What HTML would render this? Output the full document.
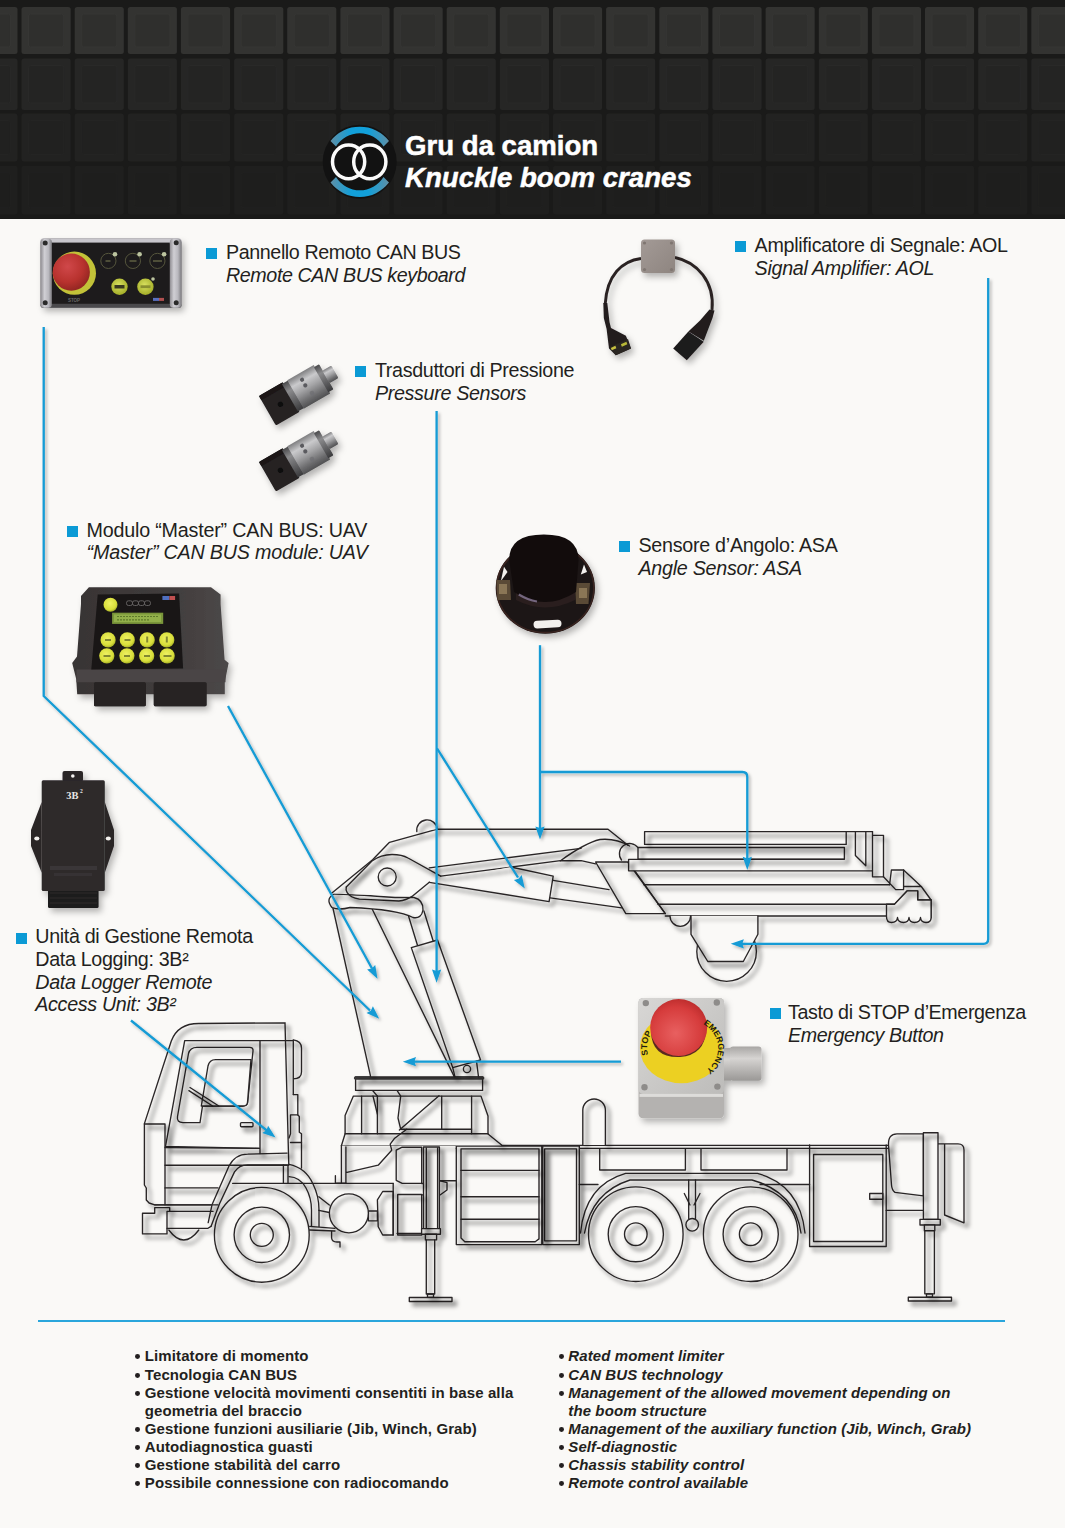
<!DOCTYPE html>
<html><head><meta charset="utf-8">
<style>
html,body{margin:0;padding:0;}
body{width:1065px;height:1528px;overflow:hidden;background:#faf9f7;position:relative;font-family:"Liberation Sans",sans-serif;color:#231f20;}
#hdr{position:absolute;left:0;top:0;width:1065px;height:218.5px;background:#191918;overflow:hidden;}
.t{position:absolute;white-space:nowrap;font-size:19.7px;line-height:19.7px;}
.i{font-style:italic;}
.sq{position:absolute;width:11px;height:11px;background:#0b9ad5;}
.title{position:absolute;white-space:nowrap;color:#fff;font-weight:bold;font-size:27.6px;line-height:27.6px;-webkit-text-stroke:0.5px #fff;}
.bl{position:absolute;white-space:nowrap;font-weight:bold;font-size:15px;line-height:15px;}
svg{position:absolute;left:0;top:0;}
</style></head><body>
<div id="hdr">
<svg width="1065" height="219" viewBox="0 0 1065 219">
<!--HDR-->
<rect x="0" y="0" width="1065" height="218.5" fill="#1a1a19"/>
<rect x="-31.6" y="7.0" width="49.1" height="47.0" rx="2.5" fill="#333331"/>
<rect x="-24.6" y="14.0" width="35.1" height="33.0" rx="2" fill="#2f2f2d" stroke="#363634" stroke-width="1"/>
<rect x="21.5" y="7.0" width="49.2" height="47.0" rx="2.5" fill="#333331"/>
<rect x="28.5" y="14.0" width="35.2" height="33.0" rx="2" fill="#2f2f2d" stroke="#363634" stroke-width="1"/>
<rect x="74.7" y="7.0" width="49.1" height="47.0" rx="2.5" fill="#333331"/>
<rect x="81.7" y="14.0" width="35.1" height="33.0" rx="2" fill="#2f2f2d" stroke="#363634" stroke-width="1"/>
<rect x="127.8" y="7.0" width="49.1" height="47.0" rx="2.5" fill="#333331"/>
<rect x="134.8" y="14.0" width="35.1" height="33.0" rx="2" fill="#2f2f2d" stroke="#363634" stroke-width="1"/>
<rect x="180.9" y="7.0" width="49.2" height="47.0" rx="2.5" fill="#333331"/>
<rect x="187.9" y="14.0" width="35.2" height="33.0" rx="2" fill="#2f2f2d" stroke="#363634" stroke-width="1"/>
<rect x="234.1" y="7.0" width="49.2" height="47.0" rx="2.5" fill="#333331"/>
<rect x="241.1" y="14.0" width="35.2" height="33.0" rx="2" fill="#2f2f2d" stroke="#363634" stroke-width="1"/>
<rect x="287.2" y="7.0" width="49.1" height="47.0" rx="2.5" fill="#333331"/>
<rect x="294.2" y="14.0" width="35.1" height="33.0" rx="2" fill="#2f2f2d" stroke="#363634" stroke-width="1"/>
<rect x="340.4" y="7.0" width="49.2" height="47.0" rx="2.5" fill="#333331"/>
<rect x="347.4" y="14.0" width="35.2" height="33.0" rx="2" fill="#2f2f2d" stroke="#363634" stroke-width="1"/>
<rect x="393.6" y="7.0" width="49.1" height="47.0" rx="2.5" fill="#333331"/>
<rect x="400.6" y="14.0" width="35.1" height="33.0" rx="2" fill="#2f2f2d" stroke="#363634" stroke-width="1"/>
<rect x="446.7" y="7.0" width="49.1" height="47.0" rx="2.5" fill="#333331"/>
<rect x="453.7" y="14.0" width="35.1" height="33.0" rx="2" fill="#2f2f2d" stroke="#363634" stroke-width="1"/>
<rect x="499.8" y="7.0" width="49.2" height="47.0" rx="2.5" fill="#333331"/>
<rect x="506.8" y="14.0" width="35.2" height="33.0" rx="2" fill="#2f2f2d" stroke="#363634" stroke-width="1"/>
<rect x="553.0" y="7.0" width="49.1" height="47.0" rx="2.5" fill="#333331"/>
<rect x="560.0" y="14.0" width="35.1" height="33.0" rx="2" fill="#2f2f2d" stroke="#363634" stroke-width="1"/>
<rect x="606.1" y="7.0" width="49.1" height="47.0" rx="2.5" fill="#333331"/>
<rect x="613.1" y="14.0" width="35.1" height="33.0" rx="2" fill="#2f2f2d" stroke="#363634" stroke-width="1"/>
<rect x="659.3" y="7.0" width="49.1" height="47.0" rx="2.5" fill="#333331"/>
<rect x="666.3" y="14.0" width="35.1" height="33.0" rx="2" fill="#2f2f2d" stroke="#363634" stroke-width="1"/>
<rect x="712.4" y="7.0" width="49.2" height="47.0" rx="2.5" fill="#333331"/>
<rect x="719.4" y="14.0" width="35.2" height="33.0" rx="2" fill="#2f2f2d" stroke="#363634" stroke-width="1"/>
<rect x="765.6" y="7.0" width="49.1" height="47.0" rx="2.5" fill="#333331"/>
<rect x="772.6" y="14.0" width="35.1" height="33.0" rx="2" fill="#2f2f2d" stroke="#363634" stroke-width="1"/>
<rect x="818.8" y="7.0" width="49.1" height="47.0" rx="2.5" fill="#333331"/>
<rect x="825.8" y="14.0" width="35.1" height="33.0" rx="2" fill="#2f2f2d" stroke="#363634" stroke-width="1"/>
<rect x="871.9" y="7.0" width="49.1" height="47.0" rx="2.5" fill="#333331"/>
<rect x="878.9" y="14.0" width="35.1" height="33.0" rx="2" fill="#2f2f2d" stroke="#363634" stroke-width="1"/>
<rect x="925.0" y="7.0" width="49.1" height="47.0" rx="2.5" fill="#333331"/>
<rect x="932.0" y="14.0" width="35.1" height="33.0" rx="2" fill="#2f2f2d" stroke="#363634" stroke-width="1"/>
<rect x="978.2" y="7.0" width="49.1" height="47.0" rx="2.5" fill="#333331"/>
<rect x="985.2" y="14.0" width="35.1" height="33.0" rx="2" fill="#2f2f2d" stroke="#363634" stroke-width="1"/>
<rect x="1031.3" y="7.0" width="49.2" height="47.0" rx="2.5" fill="#333331"/>
<rect x="1038.3" y="14.0" width="35.2" height="33.0" rx="2" fill="#2f2f2d" stroke="#363634" stroke-width="1"/>
<rect x="1084.5" y="7.0" width="49.1" height="47.0" rx="2.5" fill="#333331"/>
<rect x="1091.5" y="14.0" width="35.1" height="33.0" rx="2" fill="#2f2f2d" stroke="#363634" stroke-width="1"/>
<rect x="-31.6" y="58.5" width="49.1" height="51.5" rx="2.5" fill="#262625"/>
<rect x="-24.6" y="65.5" width="35.1" height="37.5" rx="2" fill="#242423" stroke="#292928" stroke-width="1"/>
<rect x="21.5" y="58.5" width="49.2" height="51.5" rx="2.5" fill="#262625"/>
<rect x="28.5" y="65.5" width="35.2" height="37.5" rx="2" fill="#242423" stroke="#292928" stroke-width="1"/>
<rect x="74.7" y="58.5" width="49.1" height="51.5" rx="2.5" fill="#262625"/>
<rect x="81.7" y="65.5" width="35.1" height="37.5" rx="2" fill="#242423" stroke="#292928" stroke-width="1"/>
<rect x="127.8" y="58.5" width="49.1" height="51.5" rx="2.5" fill="#262625"/>
<rect x="134.8" y="65.5" width="35.1" height="37.5" rx="2" fill="#242423" stroke="#292928" stroke-width="1"/>
<rect x="180.9" y="58.5" width="49.2" height="51.5" rx="2.5" fill="#262625"/>
<rect x="187.9" y="65.5" width="35.2" height="37.5" rx="2" fill="#242423" stroke="#292928" stroke-width="1"/>
<rect x="234.1" y="58.5" width="49.2" height="51.5" rx="2.5" fill="#262625"/>
<rect x="241.1" y="65.5" width="35.2" height="37.5" rx="2" fill="#242423" stroke="#292928" stroke-width="1"/>
<rect x="287.2" y="58.5" width="49.1" height="51.5" rx="2.5" fill="#262625"/>
<rect x="294.2" y="65.5" width="35.1" height="37.5" rx="2" fill="#242423" stroke="#292928" stroke-width="1"/>
<rect x="340.4" y="58.5" width="49.2" height="51.5" rx="2.5" fill="#262625"/>
<rect x="347.4" y="65.5" width="35.2" height="37.5" rx="2" fill="#242423" stroke="#292928" stroke-width="1"/>
<rect x="393.6" y="58.5" width="49.1" height="51.5" rx="2.5" fill="#262625"/>
<rect x="400.6" y="65.5" width="35.1" height="37.5" rx="2" fill="#242423" stroke="#292928" stroke-width="1"/>
<rect x="446.7" y="58.5" width="49.1" height="51.5" rx="2.5" fill="#262625"/>
<rect x="453.7" y="65.5" width="35.1" height="37.5" rx="2" fill="#242423" stroke="#292928" stroke-width="1"/>
<rect x="499.8" y="58.5" width="49.2" height="51.5" rx="2.5" fill="#262625"/>
<rect x="506.8" y="65.5" width="35.2" height="37.5" rx="2" fill="#242423" stroke="#292928" stroke-width="1"/>
<rect x="553.0" y="58.5" width="49.1" height="51.5" rx="2.5" fill="#262625"/>
<rect x="560.0" y="65.5" width="35.1" height="37.5" rx="2" fill="#242423" stroke="#292928" stroke-width="1"/>
<rect x="606.1" y="58.5" width="49.1" height="51.5" rx="2.5" fill="#262625"/>
<rect x="613.1" y="65.5" width="35.1" height="37.5" rx="2" fill="#242423" stroke="#292928" stroke-width="1"/>
<rect x="659.3" y="58.5" width="49.1" height="51.5" rx="2.5" fill="#262625"/>
<rect x="666.3" y="65.5" width="35.1" height="37.5" rx="2" fill="#242423" stroke="#292928" stroke-width="1"/>
<rect x="712.4" y="58.5" width="49.2" height="51.5" rx="2.5" fill="#262625"/>
<rect x="719.4" y="65.5" width="35.2" height="37.5" rx="2" fill="#242423" stroke="#292928" stroke-width="1"/>
<rect x="765.6" y="58.5" width="49.1" height="51.5" rx="2.5" fill="#262625"/>
<rect x="772.6" y="65.5" width="35.1" height="37.5" rx="2" fill="#242423" stroke="#292928" stroke-width="1"/>
<rect x="818.8" y="58.5" width="49.1" height="51.5" rx="2.5" fill="#262625"/>
<rect x="825.8" y="65.5" width="35.1" height="37.5" rx="2" fill="#242423" stroke="#292928" stroke-width="1"/>
<rect x="871.9" y="58.5" width="49.1" height="51.5" rx="2.5" fill="#262625"/>
<rect x="878.9" y="65.5" width="35.1" height="37.5" rx="2" fill="#242423" stroke="#292928" stroke-width="1"/>
<rect x="925.0" y="58.5" width="49.1" height="51.5" rx="2.5" fill="#262625"/>
<rect x="932.0" y="65.5" width="35.1" height="37.5" rx="2" fill="#242423" stroke="#292928" stroke-width="1"/>
<rect x="978.2" y="58.5" width="49.1" height="51.5" rx="2.5" fill="#262625"/>
<rect x="985.2" y="65.5" width="35.1" height="37.5" rx="2" fill="#242423" stroke="#292928" stroke-width="1"/>
<rect x="1031.3" y="58.5" width="49.2" height="51.5" rx="2.5" fill="#262625"/>
<rect x="1038.3" y="65.5" width="35.2" height="37.5" rx="2" fill="#242423" stroke="#292928" stroke-width="1"/>
<rect x="1084.5" y="58.5" width="49.1" height="51.5" rx="2.5" fill="#262625"/>
<rect x="1091.5" y="65.5" width="35.1" height="37.5" rx="2" fill="#242423" stroke="#292928" stroke-width="1"/>
<rect x="-31.6" y="113.5" width="49.1" height="48.0" rx="2.5" fill="#222221"/>
<rect x="-24.6" y="120.5" width="35.1" height="34.0" rx="2" fill="#212120" stroke="#242423" stroke-width="1"/>
<rect x="21.5" y="113.5" width="49.2" height="48.0" rx="2.5" fill="#222221"/>
<rect x="28.5" y="120.5" width="35.2" height="34.0" rx="2" fill="#212120" stroke="#242423" stroke-width="1"/>
<rect x="74.7" y="113.5" width="49.1" height="48.0" rx="2.5" fill="#222221"/>
<rect x="81.7" y="120.5" width="35.1" height="34.0" rx="2" fill="#212120" stroke="#242423" stroke-width="1"/>
<rect x="127.8" y="113.5" width="49.1" height="48.0" rx="2.5" fill="#222221"/>
<rect x="134.8" y="120.5" width="35.1" height="34.0" rx="2" fill="#212120" stroke="#242423" stroke-width="1"/>
<rect x="180.9" y="113.5" width="49.2" height="48.0" rx="2.5" fill="#222221"/>
<rect x="187.9" y="120.5" width="35.2" height="34.0" rx="2" fill="#212120" stroke="#242423" stroke-width="1"/>
<rect x="234.1" y="113.5" width="49.2" height="48.0" rx="2.5" fill="#222221"/>
<rect x="241.1" y="120.5" width="35.2" height="34.0" rx="2" fill="#212120" stroke="#242423" stroke-width="1"/>
<rect x="287.2" y="113.5" width="49.1" height="48.0" rx="2.5" fill="#222221"/>
<rect x="294.2" y="120.5" width="35.1" height="34.0" rx="2" fill="#212120" stroke="#242423" stroke-width="1"/>
<rect x="340.4" y="113.5" width="49.2" height="48.0" rx="2.5" fill="#222221"/>
<rect x="347.4" y="120.5" width="35.2" height="34.0" rx="2" fill="#212120" stroke="#242423" stroke-width="1"/>
<rect x="393.6" y="113.5" width="49.1" height="48.0" rx="2.5" fill="#222221"/>
<rect x="400.6" y="120.5" width="35.1" height="34.0" rx="2" fill="#212120" stroke="#242423" stroke-width="1"/>
<rect x="446.7" y="113.5" width="49.1" height="48.0" rx="2.5" fill="#222221"/>
<rect x="453.7" y="120.5" width="35.1" height="34.0" rx="2" fill="#212120" stroke="#242423" stroke-width="1"/>
<rect x="499.8" y="113.5" width="49.2" height="48.0" rx="2.5" fill="#222221"/>
<rect x="506.8" y="120.5" width="35.2" height="34.0" rx="2" fill="#212120" stroke="#242423" stroke-width="1"/>
<rect x="553.0" y="113.5" width="49.1" height="48.0" rx="2.5" fill="#222221"/>
<rect x="560.0" y="120.5" width="35.1" height="34.0" rx="2" fill="#212120" stroke="#242423" stroke-width="1"/>
<rect x="606.1" y="113.5" width="49.1" height="48.0" rx="2.5" fill="#222221"/>
<rect x="613.1" y="120.5" width="35.1" height="34.0" rx="2" fill="#212120" stroke="#242423" stroke-width="1"/>
<rect x="659.3" y="113.5" width="49.1" height="48.0" rx="2.5" fill="#222221"/>
<rect x="666.3" y="120.5" width="35.1" height="34.0" rx="2" fill="#212120" stroke="#242423" stroke-width="1"/>
<rect x="712.4" y="113.5" width="49.2" height="48.0" rx="2.5" fill="#222221"/>
<rect x="719.4" y="120.5" width="35.2" height="34.0" rx="2" fill="#212120" stroke="#242423" stroke-width="1"/>
<rect x="765.6" y="113.5" width="49.1" height="48.0" rx="2.5" fill="#222221"/>
<rect x="772.6" y="120.5" width="35.1" height="34.0" rx="2" fill="#212120" stroke="#242423" stroke-width="1"/>
<rect x="818.8" y="113.5" width="49.1" height="48.0" rx="2.5" fill="#222221"/>
<rect x="825.8" y="120.5" width="35.1" height="34.0" rx="2" fill="#212120" stroke="#242423" stroke-width="1"/>
<rect x="871.9" y="113.5" width="49.1" height="48.0" rx="2.5" fill="#222221"/>
<rect x="878.9" y="120.5" width="35.1" height="34.0" rx="2" fill="#212120" stroke="#242423" stroke-width="1"/>
<rect x="925.0" y="113.5" width="49.1" height="48.0" rx="2.5" fill="#222221"/>
<rect x="932.0" y="120.5" width="35.1" height="34.0" rx="2" fill="#212120" stroke="#242423" stroke-width="1"/>
<rect x="978.2" y="113.5" width="49.1" height="48.0" rx="2.5" fill="#222221"/>
<rect x="985.2" y="120.5" width="35.1" height="34.0" rx="2" fill="#212120" stroke="#242423" stroke-width="1"/>
<rect x="1031.3" y="113.5" width="49.2" height="48.0" rx="2.5" fill="#222221"/>
<rect x="1038.3" y="120.5" width="35.2" height="34.0" rx="2" fill="#212120" stroke="#242423" stroke-width="1"/>
<rect x="1084.5" y="113.5" width="49.1" height="48.0" rx="2.5" fill="#222221"/>
<rect x="1091.5" y="120.5" width="35.1" height="34.0" rx="2" fill="#212120" stroke="#242423" stroke-width="1"/>
<rect x="-31.6" y="165.7" width="49.1" height="48.9" rx="2.5" fill="#1f1f1e"/>
<rect x="-24.6" y="172.7" width="35.1" height="34.9" rx="2" fill="#1e1e1d" stroke="#212120" stroke-width="1"/>
<rect x="21.5" y="165.7" width="49.2" height="48.9" rx="2.5" fill="#1f1f1e"/>
<rect x="28.5" y="172.7" width="35.2" height="34.9" rx="2" fill="#1e1e1d" stroke="#212120" stroke-width="1"/>
<rect x="74.7" y="165.7" width="49.1" height="48.9" rx="2.5" fill="#1f1f1e"/>
<rect x="81.7" y="172.7" width="35.1" height="34.9" rx="2" fill="#1e1e1d" stroke="#212120" stroke-width="1"/>
<rect x="127.8" y="165.7" width="49.1" height="48.9" rx="2.5" fill="#1f1f1e"/>
<rect x="134.8" y="172.7" width="35.1" height="34.9" rx="2" fill="#1e1e1d" stroke="#212120" stroke-width="1"/>
<rect x="180.9" y="165.7" width="49.2" height="48.9" rx="2.5" fill="#1f1f1e"/>
<rect x="187.9" y="172.7" width="35.2" height="34.9" rx="2" fill="#1e1e1d" stroke="#212120" stroke-width="1"/>
<rect x="234.1" y="165.7" width="49.2" height="48.9" rx="2.5" fill="#1f1f1e"/>
<rect x="241.1" y="172.7" width="35.2" height="34.9" rx="2" fill="#1e1e1d" stroke="#212120" stroke-width="1"/>
<rect x="287.2" y="165.7" width="49.1" height="48.9" rx="2.5" fill="#1f1f1e"/>
<rect x="294.2" y="172.7" width="35.1" height="34.9" rx="2" fill="#1e1e1d" stroke="#212120" stroke-width="1"/>
<rect x="340.4" y="165.7" width="49.2" height="48.9" rx="2.5" fill="#1f1f1e"/>
<rect x="347.4" y="172.7" width="35.2" height="34.9" rx="2" fill="#1e1e1d" stroke="#212120" stroke-width="1"/>
<rect x="393.6" y="165.7" width="49.1" height="48.9" rx="2.5" fill="#1f1f1e"/>
<rect x="400.6" y="172.7" width="35.1" height="34.9" rx="2" fill="#1e1e1d" stroke="#212120" stroke-width="1"/>
<rect x="446.7" y="165.7" width="49.1" height="48.9" rx="2.5" fill="#1f1f1e"/>
<rect x="453.7" y="172.7" width="35.1" height="34.9" rx="2" fill="#1e1e1d" stroke="#212120" stroke-width="1"/>
<rect x="499.8" y="165.7" width="49.2" height="48.9" rx="2.5" fill="#1f1f1e"/>
<rect x="506.8" y="172.7" width="35.2" height="34.9" rx="2" fill="#1e1e1d" stroke="#212120" stroke-width="1"/>
<rect x="553.0" y="165.7" width="49.1" height="48.9" rx="2.5" fill="#1f1f1e"/>
<rect x="560.0" y="172.7" width="35.1" height="34.9" rx="2" fill="#1e1e1d" stroke="#212120" stroke-width="1"/>
<rect x="606.1" y="165.7" width="49.1" height="48.9" rx="2.5" fill="#1f1f1e"/>
<rect x="613.1" y="172.7" width="35.1" height="34.9" rx="2" fill="#1e1e1d" stroke="#212120" stroke-width="1"/>
<rect x="659.3" y="165.7" width="49.1" height="48.9" rx="2.5" fill="#1f1f1e"/>
<rect x="666.3" y="172.7" width="35.1" height="34.9" rx="2" fill="#1e1e1d" stroke="#212120" stroke-width="1"/>
<rect x="712.4" y="165.7" width="49.2" height="48.9" rx="2.5" fill="#1f1f1e"/>
<rect x="719.4" y="172.7" width="35.2" height="34.9" rx="2" fill="#1e1e1d" stroke="#212120" stroke-width="1"/>
<rect x="765.6" y="165.7" width="49.1" height="48.9" rx="2.5" fill="#1f1f1e"/>
<rect x="772.6" y="172.7" width="35.1" height="34.9" rx="2" fill="#1e1e1d" stroke="#212120" stroke-width="1"/>
<rect x="818.8" y="165.7" width="49.1" height="48.9" rx="2.5" fill="#1f1f1e"/>
<rect x="825.8" y="172.7" width="35.1" height="34.9" rx="2" fill="#1e1e1d" stroke="#212120" stroke-width="1"/>
<rect x="871.9" y="165.7" width="49.1" height="48.9" rx="2.5" fill="#1f1f1e"/>
<rect x="878.9" y="172.7" width="35.1" height="34.9" rx="2" fill="#1e1e1d" stroke="#212120" stroke-width="1"/>
<rect x="925.0" y="165.7" width="49.1" height="48.9" rx="2.5" fill="#1f1f1e"/>
<rect x="932.0" y="172.7" width="35.1" height="34.9" rx="2" fill="#1e1e1d" stroke="#212120" stroke-width="1"/>
<rect x="978.2" y="165.7" width="49.1" height="48.9" rx="2.5" fill="#1f1f1e"/>
<rect x="985.2" y="172.7" width="35.1" height="34.9" rx="2" fill="#1e1e1d" stroke="#212120" stroke-width="1"/>
<rect x="1031.3" y="165.7" width="49.2" height="48.9" rx="2.5" fill="#1f1f1e"/>
<rect x="1038.3" y="172.7" width="35.2" height="34.9" rx="2" fill="#1e1e1d" stroke="#212120" stroke-width="1"/>
<rect x="1084.5" y="165.7" width="49.1" height="48.9" rx="2.5" fill="#1f1f1e"/>
<rect x="1091.5" y="172.7" width="35.1" height="34.9" rx="2" fill="#1e1e1d" stroke="#212120" stroke-width="1"/>
<!--/HDR-->
</svg>
</div>
<!--LOGO-->
<svg width="1065" height="218" viewBox="0 0 1065 218" style="top:0">
<defs>
<linearGradient id="lgB" x1="0" y1="0" x2="1" y2="0">
<stop offset="0" stop-color="#5f8fa6"/><stop offset="0.35" stop-color="#12a0da"/><stop offset="0.65" stop-color="#12a0da"/><stop offset="1" stop-color="#5f8fa6"/>
</linearGradient>
</defs>
<circle cx="359.7" cy="161.8" r="37" fill="#121212"/>
<path d="M330.5 141 A37 37 0 0 1 389 141 L383.5 146.5 A28 28 0 0 0 336 146.5 Z" fill="url(#lgB)"/>
<path d="M330.5 182.6 A37 37 0 0 0 389 182.6 L383.5 177.1 A28 28 0 0 1 336 177.1 Z" fill="url(#lgB)"/>
<ellipse cx="348.6" cy="161.8" rx="16.1" ry="16.9" fill="none" stroke="#fbfbfb" stroke-width="3.5"/>
<ellipse cx="369.8" cy="161.8" rx="16.1" ry="16.9" fill="none" stroke="#fbfbfb" stroke-width="3.5"/>
</svg>
<div class="title" style="left:405px;top:132px;">Gru da camion</div>
<div class="title" style="left:405px;top:164px;font-style:italic;">Knuckle boom cranes</div>
<!--/LOGO-->
<!--LABELS-->
<div class="sq" style="left:206.0px;top:248.3px;"></div>
<div class="t" id="L0_0" style="left:226.0px;top:243.22px;letter-spacing:-0.41px;">Pannello Remoto CAN BUS</div>
<div class="t i" id="L0_1" style="left:226.0px;top:265.52px;letter-spacing:-0.41px;">Remote CAN BUS keyboard</div>
<div class="sq" style="left:735.2px;top:241.1px;"></div>
<div class="t" id="L1_0" style="left:754.6px;top:236.12px;letter-spacing:-0.29px;">Amplificatore di Segnale: AOL</div>
<div class="t i" id="L1_1" style="left:754.6px;top:258.62px;letter-spacing:-0.29px;">Signal Amplifier: AOL</div>
<div class="sq" style="left:355.2px;top:366.1px;"></div>
<div class="t" id="L2_0" style="left:374.9px;top:361.32px;letter-spacing:-0.33px;">Trasduttori di Pressione</div>
<div class="t i" id="L2_1" style="left:374.9px;top:383.62px;letter-spacing:-0.33px;">Pressure Sensors</div>
<div class="sq" style="left:66.8px;top:525.5px;"></div>
<div class="t" id="L3_0" style="left:86.6px;top:520.52px;letter-spacing:-0.2px;">Modulo “Master” CAN BUS: UAV</div>
<div class="t i" id="L3_1" style="left:86.6px;top:542.72px;letter-spacing:-0.2px;">“Master” CAN BUS module: UAV</div>
<div class="sq" style="left:619.1px;top:541.2px;"></div>
<div class="t" id="L4_0" style="left:638.4px;top:536.32px;letter-spacing:-0.26px;">Sensore d’Angolo: ASA</div>
<div class="t i" id="L4_1" style="left:638.4px;top:558.82px;letter-spacing:-0.26px;">Angle Sensor: ASA</div>
<div class="sq" style="left:15.9px;top:932.6px;"></div>
<div class="t" id="L5_0" style="left:35.3px;top:927.42px;letter-spacing:-0.33px;">Unità di Gestione Remota</div>
<div class="t" id="L5_1" style="left:35.3px;top:949.92px;letter-spacing:-0.33px;">Data Logging: 3B²</div>
<div class="t i" id="L5_2" style="left:35.3px;top:972.52px;letter-spacing:-0.33px;">Data Logger Remote</div>
<div class="t i" id="L5_3" style="left:35.3px;top:995.12px;letter-spacing:-0.33px;">Access Unit: 3B²</div>
<div class="sq" style="left:770.2px;top:1007.5px;"></div>
<div class="t" id="L6_0" style="left:788.0px;top:1003.02px;letter-spacing:-0.4px;">Tasto di STOP d’Emergenza</div>
<div class="t i" id="L6_1" style="left:788.0px;top:1025.62px;letter-spacing:-0.4px;">Emergency Button</div>
<!--/LABELS-->
<!--BULLETS-->
<div style="position:absolute;left:38.4px;top:1319.7px;width:966.3px;height:2.6px;background:#2aa6dc;"></div>
<div style="position:absolute;left:135.35px;top:1353.80px;width:4.9px;height:4.9px;border-radius:50%;background:#231f20;"></div>
<div class="bl" style="left:144.8px;top:1348.00px;letter-spacing:0.1px;">Limitatore di momento</div>
<div style="position:absolute;left:135.35px;top:1372.80px;width:4.9px;height:4.9px;border-radius:50%;background:#231f20;"></div>
<div class="bl" style="left:144.8px;top:1367.00px;letter-spacing:0.1px;">Tecnologia CAN BUS</div>
<div style="position:absolute;left:135.35px;top:1390.80px;width:4.9px;height:4.9px;border-radius:50%;background:#231f20;"></div>
<div class="bl" style="left:144.8px;top:1385.00px;letter-spacing:0.1px;">Gestione velocità movimenti consentiti in base alla</div>
<div class="bl" style="left:144.8px;top:1403.00px;letter-spacing:0.1px;">geometria del braccio</div>
<div style="position:absolute;left:135.35px;top:1426.80px;width:4.9px;height:4.9px;border-radius:50%;background:#231f20;"></div>
<div class="bl" style="left:144.8px;top:1421.00px;letter-spacing:0.1px;">Gestione funzioni ausiliarie (Jib, Winch, Grab)</div>
<div style="position:absolute;left:135.35px;top:1444.80px;width:4.9px;height:4.9px;border-radius:50%;background:#231f20;"></div>
<div class="bl" style="left:144.8px;top:1439.00px;letter-spacing:0.1px;">Autodiagnostica guasti</div>
<div style="position:absolute;left:135.35px;top:1462.80px;width:4.9px;height:4.9px;border-radius:50%;background:#231f20;"></div>
<div class="bl" style="left:144.8px;top:1457.00px;letter-spacing:0.1px;">Gestione stabilità del carro</div>
<div style="position:absolute;left:135.35px;top:1480.80px;width:4.9px;height:4.9px;border-radius:50%;background:#231f20;"></div>
<div class="bl" style="left:144.8px;top:1475.00px;letter-spacing:0.1px;">Possibile connessione con radiocomando</div>
<div style="position:absolute;left:558.85px;top:1353.80px;width:4.9px;height:4.9px;border-radius:50%;background:#231f20;"></div>
<div class="bl" style="left:568.3px;top:1348.00px;font-style:italic;letter-spacing:0.1px;">Rated moment limiter</div>
<div style="position:absolute;left:558.85px;top:1372.80px;width:4.9px;height:4.9px;border-radius:50%;background:#231f20;"></div>
<div class="bl" style="left:568.3px;top:1367.00px;font-style:italic;letter-spacing:0.1px;">CAN BUS technology</div>
<div style="position:absolute;left:558.85px;top:1390.80px;width:4.9px;height:4.9px;border-radius:50%;background:#231f20;"></div>
<div class="bl" style="left:568.3px;top:1385.00px;font-style:italic;letter-spacing:0.1px;">Management of the allowed movement depending on</div>
<div class="bl" style="left:568.3px;top:1403.00px;font-style:italic;letter-spacing:0.1px;">the boom structure</div>
<div style="position:absolute;left:558.85px;top:1426.80px;width:4.9px;height:4.9px;border-radius:50%;background:#231f20;"></div>
<div class="bl" style="left:568.3px;top:1421.00px;font-style:italic;letter-spacing:0.1px;">Management of the auxiliary function (Jib, Winch, Grab)</div>
<div style="position:absolute;left:558.85px;top:1444.80px;width:4.9px;height:4.9px;border-radius:50%;background:#231f20;"></div>
<div class="bl" style="left:568.3px;top:1439.00px;font-style:italic;letter-spacing:0.1px;">Self-diagnostic</div>
<div style="position:absolute;left:558.85px;top:1462.80px;width:4.9px;height:4.9px;border-radius:50%;background:#231f20;"></div>
<div class="bl" style="left:568.3px;top:1457.00px;font-style:italic;letter-spacing:0.1px;">Chassis stability control</div>
<div style="position:absolute;left:558.85px;top:1480.80px;width:4.9px;height:4.9px;border-radius:50%;background:#231f20;"></div>
<div class="bl" style="left:568.3px;top:1475.00px;font-style:italic;letter-spacing:0.1px;">Remote control available</div>
<!--/BULLETS-->
<!--DRAW-->
<svg width="1065" height="1528" viewBox="0 0 1065 1528" style="top:0"><defs><filter id="dsh" x="-3%" y="-3%" width="106%" height="106%" color-interpolation-filters="sRGB"><feColorMatrix in="SourceGraphic" type="matrix" values="0 0 0 0 0  0 0 0 0 0  0 0 0 0 0  -1.5 -1.5 -1.5 0 4.3" result="dk"/><feComposite in="dk" in2="SourceAlpha" operator="in" result="dka"/><feGaussianBlur in="dka" stdDeviation="2.3" result="bl"/><feOffset in="bl" dx="4.2" dy="4.2" result="of"/><feFlood flood-color="#000" flood-opacity="0.55"/><feComposite in2="of" operator="in" result="shc"/><feBlend in="shc" in2="SourceGraphic" mode="multiply"/></filter><filter id="psh" x="-30%" y="-30%" width="160%" height="160%"><feDropShadow dx="3" dy="4" stdDeviation="3" flood-color="#000" flood-opacity="0.28"/></filter></defs><g filter="url(#dsh)"><g id="truck" fill="none" stroke="#2a2627" stroke-width="1.35" stroke-linejoin="round" stroke-linecap="round">
<!-- ===== CHASSIS & BODY ===== -->
<!-- chassis frame top lines -->
<path d="M341.4 1145.4 H888.5 M456.3 1148.4 H888.5"/>
<path d="M232.6 1183.3 H393.2"/>
<!-- front outrigger leg bracket/boxes under crane -->
<path d="M396.2 1150.2 L402.2 1147.2 H421.7 V1183.3 H402.2 L396.2 1180.3 Z" fill="#faf9f7"/>
<path d="M377.4 1199.8 L382.7 1191.5 H393.2 V1235 H382.7 L378.2 1226.8 Z" fill="#faf9f7"/>
<path d="M397.7 1194.5 H421.7 V1235 H397.7 Z" fill="#faf9f7"/>
<path d="M393.2 1183.3 V1235"/>
<path d="M421.7 1183.5 H423.5 M421.7 1194.8 H423.5 M397 1233.3 H423"/>
<!-- bracket hook -->
<path d="M439.4 1180.7 L447 1182.6 V1190 L440.4 1194.8"/>
<path d="M440.4 1180.7 H456.3"/>
<!-- big box -->
<path d="M456.3 1146 H541.8 V1244.6 H456.3 Z" fill="#faf9f7"/>
<path d="M461 1148.8 H539 V1238.9 L535.2 1241.7 H464.8 L461 1238 Z"/>
<path d="M461 1170.4 H539 M461 1196.7 H539 M461 1219.2 H539"/>
<!-- second box -->
<path d="M542.7 1146 H579.3 V1244.6 H542.7 Z" fill="#faf9f7"/>
<path d="M544.6 1148.8 H576.5 V1240.8 H544.6 Z"/>
<!-- exhaust tube -->
<path d="M582.8 1145 V1110.3 A11.3 11.3 0 0 1 605.4 1110.3 V1145" fill="#faf9f7"/>
<!-- boxes on chassis right -->
<path d="M599.7 1149 V1170 H685.4 V1149"/>
<path d="M701 1149 V1170 H787 V1149"/>
<path d="M579.3 1184.5 H598"/>
<!-- fender rear -->
<path d="M580.5 1233 Q585 1185 625.6 1173.4 H757.5 Q800 1185 805 1233"/>
<path d="M584.5 1233 Q592 1192 630 1180 H752 Q795 1192 801 1233"/>
<!-- rear box -->
<path d="M809.6 1145 V1246.5 H886.2 V1145"/>
<path d="M813.6 1154.5 H882.8 V1241.5 H813.6 Z"/>
<path d="M869.7 1193.5 H882.8 V1199.2 H869.7 Z" fill="#faf9f7"/>
<path d="M760 1184.5 H809.6"/>
<!-- rear light housing -->
<path d="M888.5 1145 Q888 1133.8 897 1133.8 H923.4 V1195.8 L895 1192.4 Q891.8 1190 891.5 1185 Z" fill="#faf9f7"/>
<path d="M886.2 1210.4 H923.4"/>
<!-- mudflap -->
<path d="M938 1143.9 H958 Q964 1143.9 964 1150 V1222.8 L944.6 1215 V1143.9" fill="#faf9f7"/>
<!-- rear outrigger -->
<path d="M923.4 1132.7 H938 V1219.4 H923.4 Z" fill="#faf9f7"/>
<path d="M920 1219.4 H940.3 V1225 H920 Z" fill="#faf9f7"/>
<path d="M924.4 1225 H934.8 V1230.7 H924.4 Z" fill="#faf9f7"/>
<path d="M924.8 1230.7 V1293.8 H934.4 V1230.7"/>
<path d="M926.5 1293.8 H932.5 V1297.2 H926.5 Z"/>
<path d="M908.3 1297.2 H951.5 V1301 H908.3 Z" fill="#faf9f7"/>
<!-- rear wheels -->
<g fill="#faf9f7">
<circle cx="635.8" cy="1234.2" r="47.3"/><circle cx="635.8" cy="1234.2" r="27.6"/><circle cx="635.8" cy="1234.2" r="11.3"/>
<circle cx="750.7" cy="1234.2" r="47.3"/><circle cx="750.7" cy="1234.2" r="27.6"/><circle cx="750.7" cy="1234.2" r="11.3"/>
</g>
<!-- rear suspension hanger -->
<path d="M688.7 1180 V1218.5 M695.5 1180 V1218.5"/>
<path d="M684.3 1193.5 L690 1205 M700 1193.5 L694 1205"/>
<circle cx="692.2" cy="1224.8" r="6.3" fill="#faf9f7"/>
<!-- front outrigger leg -->
<path d="M423.5 1147 H439.4 V1228.6 H423.5 Z" fill="#faf9f7"/>
<path d="M426.3 1148 V1228.6 M437.6 1148 V1228.6"/>
<path d="M421.6 1228.6 H440.4 V1234.2 H421.6 Z" fill="#faf9f7"/>
<path d="M425.4 1234.2 H436.6 V1239.9 H425.4 Z" fill="#faf9f7"/>
<path d="M426.3 1239.9 V1294 H434.7 V1239.9"/>
<path d="M427.5 1294 H433.5 V1297.5 H427.5 Z"/>
<path d="M409.3 1297.5 H452 V1301.5 H409.3 Z" fill="#faf9f7"/>
<!-- ===== CRANE BASE ===== -->
<path d="M353.4 1096.1 H481 L488 1116 V1134 L501.6 1145.4 H341.4 L345.1 1133.7 V1115.6 Z" fill="#faf9f7" stroke="none"/>
<path d="M353.4 1096.1 L345.1 1115.6 V1133.7 L341.4 1145.7 V1183.2 M353.4 1096.1 H481 L488 1116 V1134 L501.6 1145"/>
<path d="M345.1 1133.7 H488"/>
<path d="M400.7 1129.2 H471.6"/>
<path d="M361.6 1096.1 V1133.7 M377.4 1096.1 V1133.7 M441.7 1096.1 V1129.2 M471.6 1096.1 V1133.7"/>
<path d="M399.4 1130 L439 1095.8"/>
<path d="M377.4 1096.1 L372.2 1090 M377.4 1114 L373 1096"/>
<path d="M400.7 1096.1 L397 1090.4 M400.7 1096.1 L398 1118 L400.7 1129.2"/>
<path d="M345.9 1147 V1183.2 M345.9 1172.7 L378.2 1165.2 L391.7 1150.2 L390.2 1144.2 L394.7 1138.2 L406.7 1129.2"/>
<path d="M335.4 1175.7 V1183.2 H345.9"/>
<!-- base plate -->
<rect x="355.6" y="1076.8" width="127" height="13.6" fill="#faf9f7"/>
<path d="M355.6 1078 H482.6" stroke-width="3.6" stroke="#3a3838"/>
<!-- ===== CABIN ===== -->
<!-- cab outline -->
<path d="M171.3 1041 Q178 1023 200 1023.5 L285 1022.8 L288.8 1165.2 H247.7 Q235 1154.1 228.9 1166.3 L212 1204.8 H154.7 L149.1 1203 L146.3 1200 V1188 L144.4 1185 V1123.6 Z" fill="#faf9f7" stroke="none"/>
<path d="M171.3 1041 Q178 1023 200 1023.5 L285 1022.8 L288.8 1165.2 H165 M171.3 1041 L144.4 1123.6 V1185 L146.3 1188 V1200 L149.1 1203 L154.7 1204.8 H211"/>
<path d="M144.4 1124 H165 V1204.8"/>
<!-- door -->
<path d="M184.7 1040.6 H293 M184.7 1040.6 L165.5 1146.3 L260 1148.4 M260 1040.6 V1153.6"/>
<!-- window outer -->
<path d="M197 1047.3 H249.5 Q253.5 1047.3 253 1051 L247.5 1103 Q247 1106 243 1106 H202.5 L200 1122.6 H183 Q176.5 1122.6 177.5 1116.5 L188.5 1053.5 Q190 1047.3 197 1047.3 Z"/>
<!-- window inner -->
<path d="M215.5 1059.6 H251 L247.5 1102.5 Q247 1106 243 1106 H201.3 L208 1066 Q209.5 1059.6 215.5 1059.6 Z" fill="#faf9f7"/>
<path d="M190 1087.5 L218.8 1106 M188.9 1090.6 L212.6 1106"/>
<rect x="240.5" y="1122.6" width="12.5" height="4.1" rx="1"/>
<!-- rear marker -->
<path d="M293.3 1039.8 Q301.5 1041 301.5 1048 V1072 Q301.5 1078.8 293.3 1078.8 M293.3 1039.8 V1094.6"/>
<!-- stack -->
<path d="M293.3 1094.6 H297.8 V1114.9 L299.3 1116.4 V1132.2 L301.5 1133.7 V1168"/>
<path d="M290.5 1114.9 H297.8 M290.5 1142.5 H301.5 M289 1138 L290.5 1133.7 V1114.9"/>
<!-- cab lower lines -->
<path d="M165 1147.5 L259 1148.4"/>
<path d="M165 1187.9 H218 M154.7 1204.8 H218 M168 1211.4 H213"/>
<!-- bumper -->
<path d="M142.5 1213.2 H154.7 V1207.6 H169.7 V1211.4 H167 V1233.9 H142.5 Z" fill="#faf9f7"/>
<path d="M167 1228.3 H208 L211 1226.4"/>
<path d="M168.8 1230 Q183.8 1250 198.8 1230"/>
<!-- wheel arch -->
<path d="M208.2 1222.6 L212 1204.8 L228.9 1166.3 Q235 1154.1 247.7 1154.1 L287.1 1153.1"/>
<path d="M211 1226.4 L219.5 1203.8 L234.5 1171.9 Q239 1164.8 247.7 1164.8 L287.1 1164.8"/>
<path d="M283.4 1164.8 V1183.3 M288 1164.8 V1183.3"/>
<!-- exhaust pipe curve -->
<path d="M289 1164.4 Q306 1168 313 1184 Q319 1196 319 1210 V1226.4"/>
<path d="M289 1176.6 Q300 1177 306 1188 Q311.5 1198 311.5 1210 V1226.4"/>
<path d="M318.8 1196.8 L329.3 1205 M318.8 1210.3 L329.3 1212.5"/>
<!-- chassis bottom front -->
<path d="M309.6 1226.4 L335 1228.3 M309.6 1230 L335 1231"/>
<path d="M331.6 1231.3 V1238 Q332 1242 337 1242 H340 V1247"/>
<!-- front wheel -->
<g fill="#faf9f7">
<circle cx="261.8" cy="1234.8" r="47.4"/><circle cx="261.8" cy="1234.8" r="27.7"/><circle cx="261.8" cy="1234.8" r="11.5"/>
</g>
<!-- tank -->
<rect x="368.4" y="1211" width="9" height="9.8" fill="#faf9f7"/>
<circle cx="348.9" cy="1213.3" r="19.5" fill="#faf9f7"/>
</g>
<g id="crane" fill="none" stroke="#2a2627" stroke-width="1.35" stroke-linejoin="round" stroke-linecap="round">
<!-- column -->
<path d="M331.8 903 L370.7 1076.9 H454.4 L370.7 906 Z" fill="#faf9f7"/>
<!-- lift cylinder rod -->
<path d="M407.9 914 L418 947 M423.9 911 L433.2 941"/>
<!-- cylinder body -->
<path d="M411.3 947.6 L437.5 940 L480.6 1060 L452.7 1067.6 Z" fill="#faf9f7"/>
<path d="M452.7 1067.6 L455 1076.9 M476.5 1061.2 L478.5 1076.9"/>
<circle cx="467" cy="1069" r="3.6" fill="#faf9f7"/>
<!-- knuckle pivot capsule -->
<path d="M334 894 Q348 894 395 897.5 H414 Q423.5 900 423 910 Q421.5 919 413 917.5 Q398 909.5 350 907.5 Q339 910.5 332 907.5 Q325 899 334 894 Z" fill="#faf9f7"/>
<!-- upper boom body -->
<path d="M331.3 893.6 L372.6 859.8 L389.5 842.3 L437.4 829.2 H608 L627.7 845 Q616 839 600 839.5 Q585 843 560.5 860.7 L440.7 876.1 L429.3 882.3 L412 896.4 Z" fill="#faf9f7" stroke="none"/>
<path d="M331.3 893.6 L372.6 859.8 L389.5 842.3 L437.4 829.2 H608 L627.7 845"/>
<!-- top bump -->
<path d="M416.8 831.5 A10.3 10.3 0 0 1 437.3 829" fill="#faf9f7"/>
<!-- boom lines -->
<path d="M429.3 867.9 L581.1 848.3"/>
<path d="M440.7 876.1 L560.5 860.7 H581.1 L595.6 863.8"/>
<path d="M560.5 860.7 Q585 843 600 839.5 Q616 838 629.6 846"/>
<!-- knuckle inner shape -->
<path d="M346.3 887 L372 861 Q381 854.5 392 854.5 Q402 854.5 408 858 L440.7 876.1"/>
<path d="M429.3 882.3 L412 896.4 Q406 900.5 398.9 901 L359.4 899.2 Q350 897.5 347.2 892.6 Q345.5 889.5 346.3 887"/>
<circle cx="387.2" cy="877" r="9" fill="#faf9f7"/>
<!-- extension cylinder -->
<path d="M510.9 867 L553.2 876.1 L549.1 901.6 L429.3 882.3" fill="#faf9f7"/>
<path d="M553.2 880.3 L609 889.6 M550.1 897.8 L623.5 908.2"/>
<!-- main boom outer section (slanted end) -->
<path d="M595.6 862 H627.7 L665.3 913.6 H625.8 Z" fill="#faf9f7"/>
<path d="M635.2 871.3 L665.3 913.6"/>
<!-- boom joint semicircle -->
<path d="M621.5 860 A10 10 0 0 1 638 847.6" fill="none"/>
<!-- telescopic plates -->
<path d="M644.6 831.6 H846.2 V844.4 H644.6 Z" fill="#faf9f7"/>
<path d="M638 847.5 H844.4 V859.1 H638 Z" fill="#faf9f7"/>

<path d="M628.6 859.3 H872.5 V870.8 H628.6 Z" fill="#faf9f7" stroke="none"/>
<path d="M844.4 859.3 H628.6 V870.8 H872.5"/>
<path d="M846.2 831.6 H872.5 M855.4 832.2 V855.4 L865.8 865.8 V832.2"/>
<path d="M872.5 831.6 V876.8 H883.5 V835.3 H872.5"/>
<!-- outer boom body -->
<path d="M643.9 884.7 H889.6 M657.9 904.2 H894.5 L907.3 890.8 H917.7 V900 H931.1 M665.3 916 H886.5"/>
<path d="M883.5 876.8 L895.7 889.6 H903.6 V870 H891.4 L889.6 884.7"/>
<path d="M903.6 870 L921.3 886.5 H903.6 M921.3 886.5 L931.1 900 V917.7"/>
<path d="M886.5 904.2 V916.4 Q886.5 922.5 891.5 922.5 Q897 922.5 897.5 917.5 Q898 922.5 903.5 922.5 Q908.5 922.5 909 917.5 Q909.5 922.5 914.5 922.5 Q920 922.5 920.5 917.5 Q921 922.5 926 922.5 Q931.1 922.5 931.1 917.7 V900 H917.7 V890.8 H907.3 L894.5 904.2 Z" fill="#faf9f7"/>
<!-- bottom bump -->
<path d="M670 916 A10.3 10.3 0 0 0 690.6 916" fill="#faf9f7"/>
<!-- hook block -->
<circle cx="726.6" cy="951.5" r="29.8" fill="#faf9f7"/>
<path d="M691 916 V934.3 L707.8 961.5 H743.3 L757.9 934.3 V916" fill="#faf9f7"/>
</g>
</g><g id="keyboard">
<defs>
<radialGradient id="kbRed" cx="0.4" cy="0.35" r="0.7"><stop offset="0" stop-color="#d0484a"/><stop offset="0.6" stop-color="#b8322e"/><stop offset="1" stop-color="#8e2420"/></radialGradient>
<linearGradient id="kbCap" x1="0" y1="0" x2="1" y2="0"><stop offset="0" stop-color="#8f8d92"/><stop offset="0.35" stop-color="#d0cfd4"/><stop offset="0.7" stop-color="#b9b8be"/><stop offset="1" stop-color="#7d7c80"/></linearGradient>
<radialGradient id="kbYel" cx="0.45" cy="0.4" r="0.6"><stop offset="0" stop-color="#d8e060"/><stop offset="1" stop-color="#a4ae28"/></radialGradient>
</defs>
<rect x="40.5" y="238.6" width="141" height="69" rx="4" fill="#6e6d70" filter="url(#psh)"/>
<rect x="40.5" y="238.6" width="141" height="5" rx="2" fill="#c8c6cc"/>
<rect x="40.5" y="303.2" width="141" height="4.5" rx="2" fill="#4a494c"/>
<rect x="40.6" y="238.7" width="11.3" height="69" rx="3.5" fill="url(#kbCap)"/>
<rect x="169.8" y="238.7" width="11.6" height="69" rx="3.5" fill="url(#kbCap)"/>
<rect x="51.9" y="242.6" width="117.8" height="61.2" fill="#1d1b1c"/>
<circle cx="45.2" cy="243" r="2.5" fill="#2a2a2a"/><circle cx="45.2" cy="302.8" r="2.5" fill="#2a2a2a"/>
<circle cx="176.2" cy="242.8" r="2.5" fill="#2a2a2a"/><circle cx="176.2" cy="302.8" r="2.5" fill="#2a2a2a"/>
<circle cx="74.4" cy="273.2" r="21.6" fill="#c2c238"/>
<circle cx="71.3" cy="272.1" r="18.6" fill="url(#kbRed)"/>
<text x="74" y="301.5" font-family="Liberation Sans" font-size="4.5" fill="#6a6a6a" text-anchor="middle" font-weight="bold">STOP</text>
<g fill="none" stroke="#55553c" stroke-width="1">
<circle cx="108.4" cy="260.9" r="7.6"/><circle cx="132.9" cy="260.9" r="7.6"/><circle cx="157.4" cy="260.9" r="7.6"/>
</g>
<g fill="#4e4e38"><rect x="105.5" y="260" width="5" height="2"/><rect x="129.5" y="260" width="7" height="2"/><rect x="153" y="260" width="9" height="2"/></g>
<g fill="#bcc4a0"><circle cx="115" cy="254.2" r="2.3"/><circle cx="139.6" cy="254.2" r="2.3"/><circle cx="164.1" cy="254.2" r="2.3"/><circle cx="153" cy="279" r="1.8"/></g>
<circle cx="119.5" cy="286.7" r="8.2" fill="url(#kbYel)"/>
<circle cx="145.4" cy="286.7" r="8.2" fill="url(#kbYel)"/>
<rect x="114.5" y="285" width="10" height="3.5" fill="#3a3a20"/>
<rect x="140.5" y="285.3" width="10" height="2.8" fill="#8a9030"/>
<rect x="153" y="297.9" width="6" height="3" fill="#5a70c0"/><rect x="159" y="297.9" width="5" height="3" fill="#b05050"/>
</g>
<g id="aol">
<defs>
<linearGradient id="aolBox" x1="0" y1="0" x2="1" y2="1"><stop offset="0" stop-color="#a39a96"/><stop offset="1" stop-color="#8e8580"/></linearGradient>
</defs>
<g filter="url(#psh)">
<path d="M641 258.5 C622 261 607 275 605.2 304" fill="none" stroke="#2a2424" stroke-width="2.9"/>
<path d="M675 257.5 C697 262 715 282 712 310" fill="none" stroke="#2a2424" stroke-width="2.9"/>
<path d="M603.3 303 L607.3 303 L609.5 322 L611 328 L625.9 335.8 L631 348.4 L615.8 355.2 L609 348.4 L606.6 329 L603.8 318 Z" fill="#221d1e"/>
<path d="M609.5 347 L628 339 L631 348.4 L615.8 355.2 Z" fill="#2a2520"/>
<rect x="611" y="347" width="5" height="2.6" fill="#c8c040" transform="rotate(-24 613 348)"/>
<rect x="621" y="343" width="6" height="2.6" fill="#b8b838" transform="rotate(-24 624 344)"/>
<path d="M709.5 309.5 L714.5 310.5 L712.5 318 L703.8 340.8 L688.4 331.5 L700 320.5 Z" fill="#221d1e"/>
<path d="M673.2 348.4 L688.4 331.5 L703.7 341.7 L686.8 360.3 Z" fill="#1e1a1b"/>
<rect x="641" y="239.5" width="34" height="33.5" rx="3.5" fill="url(#aolBox)"/>
</g>
<g fill="#7f7671"><circle cx="644.5" cy="243" r="1.6"/><circle cx="671.5" cy="243" r="1.6"/><circle cx="644.5" cy="269.5" r="1.6"/><circle cx="671.5" cy="269.5" r="1.6"/></g>
</g>

<g id="psensors">
<defs>
<linearGradient id="metalD" x1="0" y1="0" x2="0" y2="1"><stop offset="0" stop-color="#4a4a4c"/><stop offset="0.3" stop-color="#8a8a8c"/><stop offset="1" stop-color="#3a3a3c"/></linearGradient>
<linearGradient id="metal" x1="0" y1="0" x2="0" y2="1"><stop offset="0" stop-color="#7e7e80"/><stop offset="0.25" stop-color="#cacacc"/><stop offset="0.5" stop-color="#a4a4a6"/><stop offset="0.8" stop-color="#6e6e70"/><stop offset="1" stop-color="#505052"/></linearGradient>
<g id="psens">
<rect x="-45.5" y="-17" width="27.5" height="34" rx="1.5" fill="#252122"/>
<rect x="-45.5" y="-17" width="27.5" height="5" fill="#1a1718"/>
<circle cx="-31" cy="1" r="2.6" fill="#0c0a0a"/>
<rect x="-19.5" y="-16" width="7" height="32" fill="url(#metalD)"/>
<rect x="-13" y="-16.5" width="30.5" height="33" fill="url(#metal)"/>
<circle cx="0" cy="-9.5" r="2.1" fill="#5a5a5e"/><circle cx="0" cy="-3" r="2.1" fill="#5a5a5e"/><circle cx="2" cy="7" r="2.3" fill="#6e6e72" opacity="0.7"/>
<rect x="16.5" y="-14.5" width="6" height="29" rx="1" fill="url(#metalD)"/>
<rect x="22" y="-7.2" width="10.5" height="14.4" rx="1.5" fill="url(#metal)"/>
</g>
</defs>
<g filter="url(#psh)">
<use href="#psens" transform="translate(306.8 388) rotate(-30)"/>
<use href="#psens" transform="translate(306.8 454) rotate(-30)"/>
</g>
</g>

<g id="uav">
<defs>
<linearGradient id="uavH" x1="0" y1="0" x2="1" y2="0"><stop offset="0" stop-color="#383434"/><stop offset="0.6" stop-color="#403c3c"/><stop offset="1" stop-color="#4c4848"/></linearGradient>
<radialGradient id="uavY" cx="0.45" cy="0.4" r="0.6"><stop offset="0" stop-color="#eef062"/><stop offset="0.75" stop-color="#d8de3a"/><stop offset="1" stop-color="#a8b028"/></radialGradient>
</defs>
<g filter="url(#psh)">
<path d="M88.9 587.2 H211 L220.6 594.4 V604 L224.6 659.8 L228.6 663 L224.8 682.2 V694.3 H77.2 L76.2 679 L72.2 663 L77 656.6 L81 604 V596 Z" fill="url(#uavH)"/>
<rect x="94" y="682.3" width="51.8" height="24" rx="1.5" fill="#272323"/>
<rect x="153.8" y="682.3" width="52.7" height="24" rx="1.5" fill="#272323"/>
</g>
<path d="M76.5 669.5 H225.5 V682.3 H76.5 Z" fill="#4a4546"/><rect x="94" y="682.3" width="51.8" height="24" rx="1.5" fill="#272323"/><rect x="153.8" y="682.3" width="52.7" height="24" rx="1.5" fill="#272323"/>
<path d="M97.7 594.4 L179.1 593.6 L183.1 668.6 L91.3 669.4 Z" fill="#191616"/>
<rect x="112.1" y="612.7" width="51.1" height="11.2" fill="#7a963a"/>
<rect x="114" y="614.5" width="47" height="7.5" fill="#92b04a"/><path d="M117 616.5 H158 M117 619.8 H150" stroke="#5e7a2a" stroke-width="1.2" stroke-dasharray="2 1"/>
<circle cx="110.5" cy="604.7" r="7" fill="url(#uavY)"/>
<g fill="none" stroke="#6a6666" stroke-width="0.9"><rect x="126.5" y="600.8" width="6" height="4.7" rx="2"/><rect x="132.5" y="600.8" width="6" height="4.7" rx="2"/><rect x="138.5" y="600.8" width="6" height="4.7" rx="2"/><rect x="144.5" y="600.8" width="6" height="4.7" rx="2"/></g>
<rect x="162.4" y="596" width="7" height="4" fill="#5070c0"/><rect x="169.4" y="596" width="5.7" height="4" fill="#c05050"/>
<g fill="url(#uavY)">
<circle cx="108.1" cy="639.9" r="7.6"/><circle cx="127.3" cy="639.9" r="7.6"/><circle cx="147.2" cy="639.9" r="7.6"/><circle cx="166.8" cy="639.9" r="7.6"/>
<circle cx="106.8" cy="655.8" r="7.6"/><circle cx="126.9" cy="655.8" r="7.6"/><circle cx="146.7" cy="655.8" r="7.6"/><circle cx="167.2" cy="655.8" r="7.6"/>
</g>
<g fill="#6a7028" opacity="0.8"><rect x="105" y="639" width="6" height="2"/><rect x="124.5" y="639" width="6" height="2"/><rect x="146.2" y="636.5" width="2" height="6"/><rect x="165.8" y="636.5" width="2" height="6"/>
<rect x="103.5" y="655" width="7" height="2"/><rect x="124" y="655" width="6" height="2"/><rect x="144" y="655" width="6" height="2"/><rect x="163.5" y="655" width="8" height="2"/></g>
</g>

<g id="asa">
<g filter="url(#psh)">
<ellipse cx="545.3" cy="588" rx="49.6" ry="45.7" fill="#1a1212"/>
</g>
<ellipse cx="545.3" cy="588" rx="48.5" ry="44.6" fill="none" stroke="#3a2420" stroke-width="1.5"/>
<path d="M500.8 581.3 L504 566.7 L507.5 572 Z" fill="#f3f1ee"/>
<path d="M580.8 574.6 L584 564.4 L587 572 Z" fill="#f3f1ee"/>
<path d="M496.3 580 H510 L511 600 H497.5 Z" fill="#5a4a36"/><path d="M499 584 H507 V594 H499 Z" fill="#8a7656"/>
<path d="M575 583 H590 L588.5 604 H576 Z" fill="#5a4a36"/><path d="M579 588 H587 V598 H579 Z" fill="#8a7656"/>
<path d="M516 600 Q545 615 575 600 V590 Q545 604 516 590 Z" fill="#2a1e1e"/>
<path d="M509.2 560 Q509 534.6 543.8 534.6 Q578.5 534.6 578.5 560 L576 592 Q545 612 514 592 Z" fill="#120c0c"/>
<path d="M518.8 594.5 Q528 600 537 601.5" fill="none" stroke="#8a7a98" stroke-width="2.2" opacity="0.8"/>
<rect x="533.5" y="620.3" width="28" height="7.6" rx="3.8" fill="#f2f0ed" transform="rotate(-3 547.5 624)"/>
</g>

<g id="b3">
<g filter="url(#psh)">
<path d="M41.7 802 L31 830 V846 L41.7 872.7 Z M104.8 802 L114 830 V846 L104.8 872.7 Z" fill="#2a2628"/>
<rect x="62.5" y="771" width="20.5" height="11" rx="2" fill="#2a2628"/>
<rect x="48" y="888" width="50.6" height="20" rx="1.5" fill="#1e1b1c"/>
<rect x="41.7" y="780.3" width="63.1" height="110.7" rx="1.5" fill="#2e2a2c"/>
</g>
<ellipse cx="36.8" cy="838.5" rx="2.6" ry="2" fill="#f3f1ee"/><ellipse cx="108.3" cy="838.5" rx="2.6" ry="2" fill="#f3f1ee"/>
<circle cx="72.8" cy="776" r="1.8" fill="#f3f1ee"/>
<path d="M50 893 H97 M50 898 H97 M50 903 H97" stroke="#2e2a2b" stroke-width="1"/>
<text x="72.5" y="799" font-family="Liberation Serif" font-size="10.5" font-weight="bold" fill="#e8e6e4" text-anchor="middle">3B</text>
<text x="80" y="793" font-family="Liberation Serif" font-size="5.5" font-weight="bold" fill="#e8e6e4">2</text>
<rect x="50" y="866" width="47" height="4" fill="#3a3638"/><rect x="54" y="873" width="38" height="3" fill="#363234"/>
</g>

<g id="estop">
<defs>
<linearGradient id="esLid" x1="0" y1="0" x2="1" y2="1"><stop offset="0" stop-color="#d8d7d5"/><stop offset="1" stop-color="#bdbcba"/></linearGradient>
<linearGradient id="esGl" x1="0" y1="0" x2="0" y2="1"><stop offset="0" stop-color="#a8a6a4"/><stop offset="0.35" stop-color="#d6d4d2"/><stop offset="1" stop-color="#9a9896"/></linearGradient>
<radialGradient id="esRed" cx="0.45" cy="0.6" r="0.65"><stop offset="0" stop-color="#e86060"/><stop offset="0.7" stop-color="#d63c3c"/><stop offset="1" stop-color="#b82a2a"/></radialGradient>
</defs>
<g filter="url(#psh)">
<rect x="723" y="1047.8" width="8" height="32.9" fill="url(#esGl)"/>
<rect x="730" y="1046.5" width="31.5" height="34.2" rx="3" fill="url(#esGl)"/>
<rect x="638.5" y="997.9" width="85.5" height="120.3" rx="4.5" fill="#b4b2b0"/>
</g>
<rect x="638.5" y="997.9" width="85.5" height="96" rx="4.5" fill="url(#esLid)"/>
<rect x="639.5" y="1093.9" width="83.5" height="3" fill="#dddcda"/>
<g fill="#8e8c8a"><circle cx="645.8" cy="1003.1" r="3.2"/><circle cx="716.8" cy="1002.5" r="3.2"/><circle cx="644.5" cy="1087.3" r="3.2"/><circle cx="717.4" cy="1086.6" r="3.2"/></g>
<ellipse cx="681.3" cy="1047.8" rx="41.4" ry="35.5" fill="#ecd022"/>
<path d="M651 1032 Q652 1058 680 1057 Q705 1055 706 1030 Z" fill="#5a2a20"/>
<circle cx="678.7" cy="1027.5" r="28.5" fill="url(#esRed)"/>
<path id="esArcR" d="M703.2 1024 A34 29 0 0 1 692.9 1076" fill="none"/>
<path id="esArcL" d="M648.1 1055 A34 29 0 0 1 655 1029" fill="none"/>
<g font-family="Liberation Sans" font-weight="bold" font-size="8.6" fill="#1e1c10">
<text><textPath href="#esArcR">EMERGENCY</textPath></text>
<text><textPath href="#esArcL">STOP</textPath></text>
</g>
</g>
</svg>
<!--/DRAW-->
<!--LINES-->
<svg width="1065" height="1528" viewBox="0 0 1065 1528" style="top:0"><defs><filter id="sh" x="-5%" y="-5%" width="110%" height="110%"><feDropShadow dx="2" dy="2.2" stdDeviation="1.4" flood-color="#000" flood-opacity="0.28"/></filter></defs><g filter="url(#sh)">
<path d="M43.7 327 V696 L370 1010.5" fill="none" stroke="#139bd5" stroke-width="2.3" stroke-linejoin="round"/>
<path d="M379.2 1018.8 L366.5 1013.0 L370.8 1010.8 L372.9 1006.3 Z" fill="#139bd5"/>
<path d="M228 706 L372 968.5" fill="none" stroke="#139bd5" stroke-width="2.3" stroke-linejoin="round"/>
<path d="M377.5 978.8 L367.1 969.4 L371.9 968.6 L375.2 965.0 Z" fill="#139bd5"/>
<path d="M436.6 411 V972" fill="none" stroke="#139bd5" stroke-width="2.3" stroke-linejoin="round"/>
<path d="M436.6 982.7 L432.0 969.5 L436.6 971.1 L441.2 969.5 Z" fill="#139bd5"/>
<path d="M437 748.3 L518 877.5" fill="none" stroke="#139bd5" stroke-width="2.3" stroke-linejoin="round"/>
<path d="M524.8 888.6 L513.9 879.9 L518.6 878.8 L521.7 875.0 Z" fill="#139bd5"/>
<path d="M540 645.2 V829" fill="none" stroke="#139bd5" stroke-width="2.3" stroke-linejoin="round"/>
<path d="M540.0 839.6 L535.4 826.4 L540.0 828.0 L544.6 826.4 Z" fill="#139bd5"/>
<path d="M540 772 H742.5 Q747.3 772 747.3 777 V859" fill="none" stroke="#139bd5" stroke-width="2.3" stroke-linejoin="round"/>
<path d="M747.3 870.0 L742.7 856.8 L747.3 858.4 L751.9 856.8 Z" fill="#139bd5"/>
<path d="M988.2 278 V939 Q988.2 943.8 983.5 943.8 H741" fill="none" stroke="#139bd5" stroke-width="2.3" stroke-linejoin="round"/>
<path d="M730.7 943.8 L743.9 939.2 L742.3 943.8 L743.9 948.4 Z" fill="#139bd5"/>
<path d="M621 1061.7 H413" fill="none" stroke="#139bd5" stroke-width="2.3" stroke-linejoin="round"/>
<path d="M402.8 1061.7 L416.0 1057.1 L414.4 1061.7 L416.0 1066.3 Z" fill="#139bd5"/>
<path d="M131 1020.5 L267 1130.7" fill="none" stroke="#139bd5" stroke-width="2.3" stroke-linejoin="round"/>
<path d="M275.5 1137.6 L262.3 1132.9 L266.5 1130.3 L268.1 1125.7 Z" fill="#139bd5"/>
</g></svg>
<!--/LINES-->
<!--MAIN-->
</body></html>
